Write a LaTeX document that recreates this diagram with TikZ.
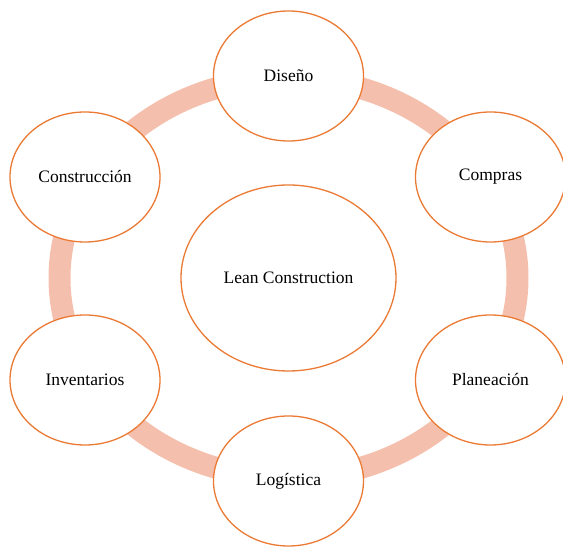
\documentclass[tikz,border=0pt]{standalone}
\usepackage{fontspec}
\setmainfont{Liberation Serif}
\usepackage{tikz}
\usetikzlibrary{shapes.geometric}
\definecolor{ringorange}{RGB}{234,122,52}
\definecolor{ringpink}{RGB}{244,192,173}

\begin{document}
\begin{tikzpicture}[x=1pt,y=1pt,
  area/.style={draw=ringorange, line width=1.3pt, fill=white, ellipse, inner sep=0pt,
    minimum width=150pt, minimum height=130pt, font=\fontsize{17.5}{20}\selectfont},
  hub/.style={area, minimum width=215pt, minimum height=186pt}]
\useasboundingbox (0,0) rectangle (563,548);

\draw [ringpink, line width=22pt] (288.5,270) ellipse [x radius=229, y radius=200];

\node [hub] (v0) at (288.5,270) {Lean Construction};
\node [area] (v1) at (288.5,472) {Diseño};
\node [area] (v2) at (490.5,371) {Compras};
\node [area] (v3) at (490.5,168) {Planeación};
\node [area] (v4) at (288.5,67) {Logística};
\node [area] (v5) at (85,168) {Inventarios};
\node [area] (v6) at (85,371) {Construcción};
\end{tikzpicture}
\end{document}
